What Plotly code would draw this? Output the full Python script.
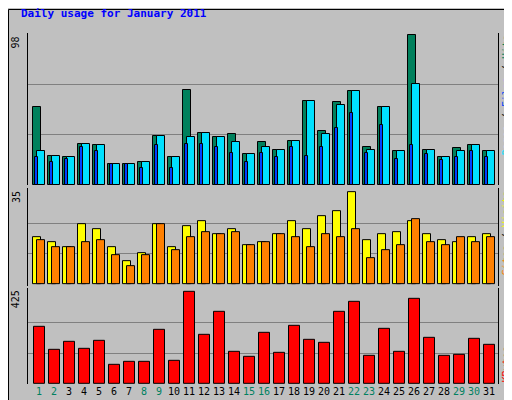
import plotly.graph_objects as go

days = list(range(1, 32))
hits = [51, 19, 18, 27, 26, 14, 14, 15, 32, 18, 62, 34, 31, 33, 20, 28, 23, 29, 55, 35, 54, 61, 25, 51, 22, 98, 23, 18, 24, 26, 22]
files = [22, 19, 18, 27, 26, 14, 14, 15, 32, 18, 31, 34, 31, 28, 20, 25, 23, 29, 55, 33, 52, 61, 23, 51, 22, 66, 23, 18, 22, 26, 22]
pages = [18, 15, 17, 25, 22, 14, 14, 11, 26, 11, 27, 27, 25, 21, 15, 21, 18, 25, 19, 25, 37, 47, 21, 39, 17, 26, 20, 16, 18, 22, 18]
visits = [18, 16, 14, 23, 21, 14, 9, 12, 23, 14, 22, 24, 19, 21, 15, 16, 19, 24, 21, 26, 28, 35, 17, 19, 20, 24, 19, 17, 16, 18, 19]
sites = [17, 14, 14, 16, 17, 11, 7, 11, 23, 13, 18, 20, 19, 20, 15, 16, 19, 18, 14, 19, 18, 21, 10, 13, 15, 25, 16, 15, 18, 16, 18]
kbytes = [266, 159, 196, 163, 201, 89, 103, 103, 252, 107, 425, 229, 336, 149, 126, 238, 145, 271, 205, 191, 332, 378, 131, 257, 149, 392, 215, 131, 135, 210, 182]
weekend = [1, 2, 8, 9, 15, 16, 22, 23, 29, 30]

MONO = "DejaVu Sans Mono"
fig = go.Figure()

def bars(y, color, offset, width, yaxis):
    fig.add_trace(go.Bar(x=days, y=y, marker=dict(color=color, line=dict(color="black", width=1)),
                         offset=offset, width=width, xaxis="x", yaxis=yaxis, showlegend=False))

bars(hits, "#00805C", -0.38, 0.49, "y")
bars(files, "#00E0FF", -0.11, 0.49, "y")
bars(pages, "#0040FF", -0.24, 0.16, "y")
bars(visits, "#FFFF00", -0.38, 0.53, "y2")
bars(sites, "#FF8000", -0.11, 0.49, "y2")
bars(kbytes, "#FF0000", -0.31, 0.69, "y3")

def yax(dom, top, mx):
    return dict(domain=dom, range=top, tickvals=[mx / 3, 2 * mx / 3], showticklabels=False,
                gridcolor="#808080", gridwidth=1, zeroline=False, showline=True, linecolor="black",
                linewidth=1, mirror=True, ticks="")

ticktext = [f"<span style='color:{'#008060' if d in weekend else 'black'}'>{d}</span>" for d in days]

fig.update_layout(
    width=512, height=400, margin=dict(l=20, r=22, t=25, b=24),
    paper_bgcolor="#C0C0C0", plot_bgcolor="#C0C0C0", barmode="overlay", bargap=0,
    font=dict(family=MONO, size=10, color="black"),
    xaxis=dict(range=[0.27, 31.6], tickvals=days, ticktext=ticktext, showgrid=False, zeroline=False,
               anchor="y3", ticks="", tickangle=0, tickfont=dict(size=10)),
    yaxis=yax([0.567, 1], [0, 99.1], 98),
    yaxis2=yax([0.279, 0.558], [-0.65, 36.6], 35),
    yaxis3=yax([0, 0.274], [0, 445], 425),
)

ann = [
    dict(text="<b>Daily usage for January 2011</b>", x=-0.02, y=1.055, xanchor="left", yanchor="middle",
         font=dict(color="#0000FF", size=11)),
    dict(text="98", x=-0.026, y=0.995, yanchor="top", textangle=-90),
    dict(text="35", x=-0.026, y=0.555, yanchor="top", textangle=-90),
    dict(text="425", x=-0.026, y=0.272, yanchor="top", textangle=-90),
    dict(text="<span style='color:#00E0FF'>Pages</span> / <span style='color:#0040FF'>Files</span> / "
              "<span style='color:#00805C'>Hits</span>", x=1.018, y=1.0, yanchor="top", textangle=-90),
    dict(text="<span style='color:#FF8000'>Sites</span> / <span style='color:#FFFF00'>Visits</span>",
         x=1.018, y=0.556, yanchor="top", textangle=-90),
    dict(text="<span style='color:#FF0000'>KBytes</span>", x=1.018, y=0.0, yanchor="bottom", textangle=-90),
]
for a in ann:
    a.setdefault("font", dict(size=10))
    fig.add_annotation(xref="paper", yref="paper", showarrow=False, xanchor=a.pop("xanchor", "center"), **a)

# outer frame with bevel
fig.add_shape(type="rect", xref="paper", yref="paper", x0=-19.5 / 470, x1=509.5 / 470, y0=-22.5 / 351,
              y1=374.5 / 351, line=dict(color="black", width=1), layer="below")
fig.add_shape(type="line", xref="paper", yref="paper", x0=507 / 470, x1=507 / 470, y0=-20 / 351, y1=372 / 351,
              line=dict(color="#808080", width=4), layer="below")
fig.add_shape(type="line", xref="paper", yref="paper", x0=-17 / 470, x1=507 / 470, y0=-20 / 351, y1=-20 / 351,
              line=dict(color="#808080", width=4), layer="below")

fig.write_html("out.html")
